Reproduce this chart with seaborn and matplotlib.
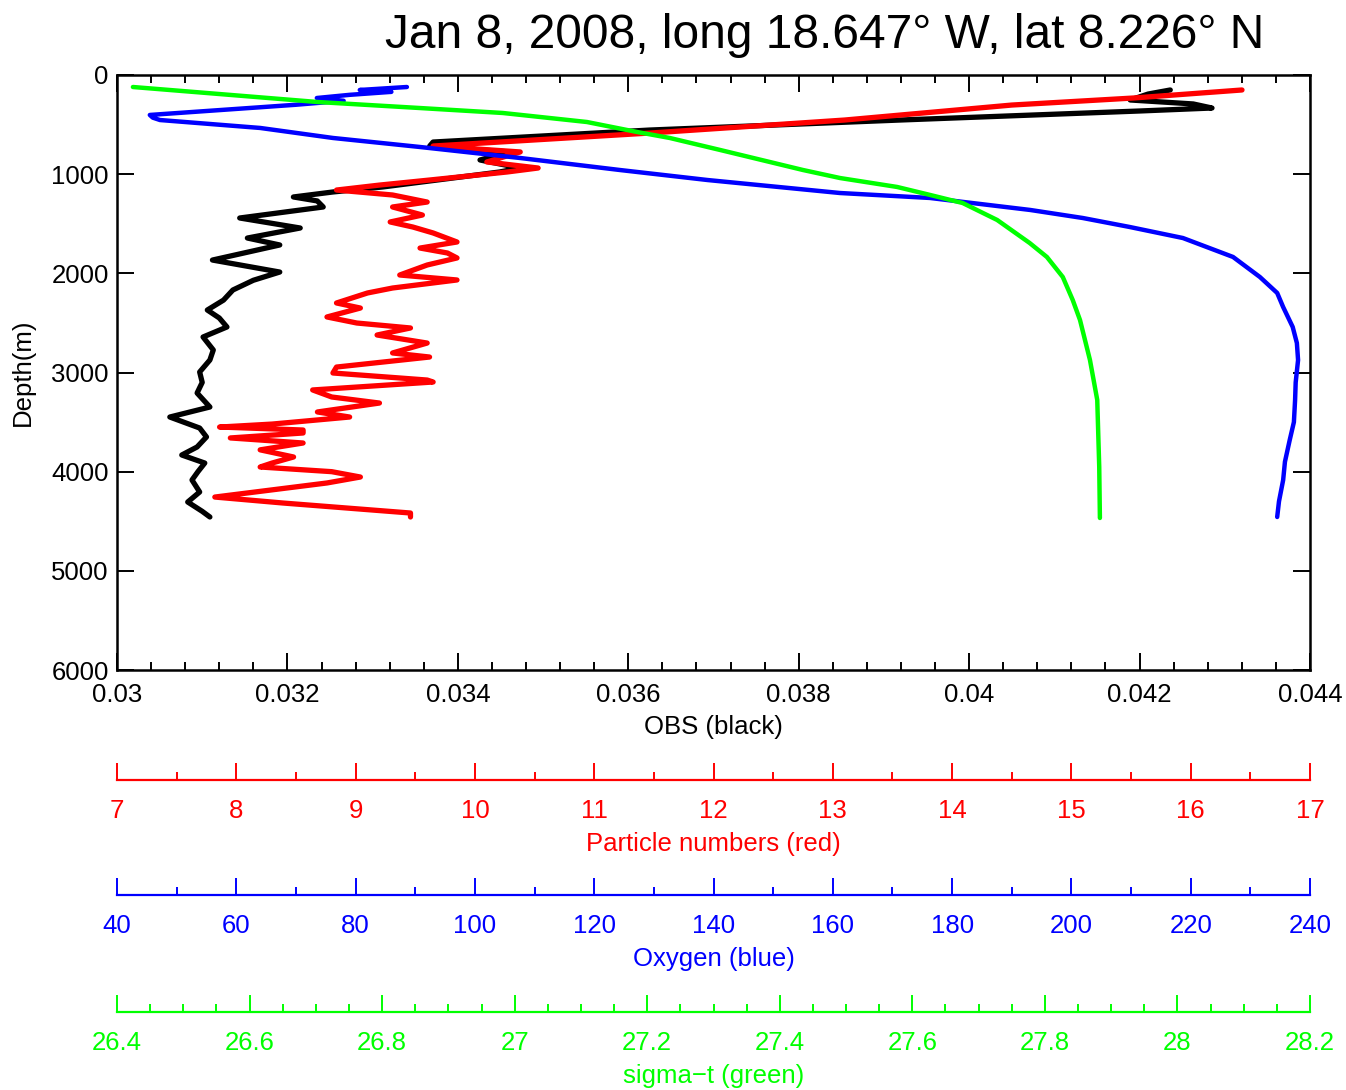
import matplotlib
matplotlib.use("Agg")
import matplotlib.pyplot as plt
from matplotlib.ticker import MultipleLocator, FuncFormatter
import seaborn as sns

sns.set_theme(style="white")
plt.rcParams["font.family"] = ["Liberation Sans", "DejaVu Sans"]
plt.rcParams["text.color"] = "black"
plt.rcParams["axes.labelcolor"] = "black"

TITLE = "Jan 8, 2008, long 18.647° W, lat 8.226° N"

# ── OBS (black) ───────────────────────────────────────────────────────────────
obs_depth = [151, 192, 252, 292, 333, 363, 454, 555, 676, 716, 726, 776, 857, 938,
             978, 1029, 1129, 1180, 1230, 1270, 1331, 1442, 1543, 1644, 1714, 1866,
             1987, 2070, 2168, 2270, 2370, 2450, 2541, 2642, 2773, 2874, 2995, 3100,
             3207, 3348, 3449, 3560, 3650, 3751, 3832, 3913, 4000, 4084, 4205, 4306,
             4400, 4457]
obs_vals = [0.04236, 0.04210, 0.04189, 0.04263, 0.04285, 0.04200, 0.03919, 0.03625,
            0.03371, 0.03367, 0.03379, 0.03461, 0.03426, 0.03473, 0.03449, 0.03403,
            0.03312, 0.03253, 0.03207, 0.03235, 0.03242, 0.03144, 0.03215, 0.03153,
            0.03191, 0.03112, 0.03191, 0.03160, 0.03136, 0.03125, 0.03106, 0.03120,
            0.03129, 0.03101, 0.03113, 0.03109, 0.03097, 0.03100, 0.03094, 0.03109,
            0.03062, 0.03097, 0.03105, 0.03094, 0.03076, 0.03103, 0.03095, 0.03088,
            0.03097, 0.03083, 0.03100, 0.03109]

# ── Particle numbers (red) ────────────────────────────────────────────────────
part_depth = [151, 232, 303, 454, 585, 716, 776, 877, 938, 978, 1059, 1110, 1160,
              1210, 1281, 1331, 1412, 1482, 1533, 1593, 1684, 1745, 1795, 1845, 1916,
              2017, 2067, 2148, 2198, 2299, 2350, 2440, 2501, 2551, 2622, 2703, 2803,
              2844, 2945, 3005, 3076, 3096, 3176, 3247, 3308, 3398, 3449, 3520, 3550,
              3580, 3610, 3660, 3711, 3780, 3852, 3913, 3953, 4000, 4054, 4114, 4256,
              4316, 4417, 4457]
part_vals = [16.43, 15.52, 14.50, 13.10, 11.47, 9.65, 10.38, 10.10, 10.53, 10.27, 9.62,
             9.20, 8.84, 9.31, 9.60, 9.31, 9.56, 9.29, 9.48, 9.65, 9.85, 9.54, 9.77,
             9.85, 9.60, 9.37, 9.85, 9.31, 9.10, 8.84, 9.04, 8.76, 9.01, 9.46, 9.18,
             9.60, 9.31, 9.62, 8.84, 8.81, 9.60, 9.65, 8.64, 8.80, 9.20, 8.68, 8.95,
             8.30, 7.86, 8.56, 8.56, 7.95, 8.56, 8.20, 8.48, 8.30, 8.20, 8.80, 9.04,
             8.76, 7.82, 8.39, 9.46, 9.46]

# ── Oxygen (blue) ─────────────────────────────────────────────────────────────
oxy_depth = [121, 151, 170, 200, 232, 260, 300, 403, 430, 454, 534, 635, 726, 837,
             958, 1059, 1190, 1240, 1361, 1442, 1533, 1644, 1835, 2037, 2198,
             2340, 2541, 2703, 2874, 3100, 3277, 3500, 3681, 3900, 4084, 4300, 4457]
oxy_vals = [88.6, 80.7, 86.0, 79.0, 73.5, 78.0, 70.0, 45.5, 46.0, 47.2, 64.0, 76.2,
            90.8, 107.6, 124.3, 139.0, 161.2, 176.3, 193.1, 201.9, 209.8, 218.7,
            227.1, 231.6, 234.5, 235.5, 237.1, 237.8, 238.0, 237.6, 237.5, 237.3, 236.6,
            235.8, 235.5, 234.8, 234.5]

# ── sigma-t (green) ───────────────────────────────────────────────────────────
sig_depth = [121, 272, 333, 383, 474, 575, 635, 756, 958, 1039, 1129, 1210, 1291,
             1462, 1694, 1835, 2037, 2269, 2471, 2874, 3277, 3953, 4467]
sig_vals = [26.424, 26.702, 26.857, 26.982, 27.109, 27.185, 27.234, 27.310, 27.435,
            27.491, 27.577, 27.627, 27.676, 27.728, 27.777, 27.803, 27.827, 27.842,
            27.853, 27.868, 27.879, 27.882, 27.883]

FS = 18.5
L, W = 117 / 1346, 1193 / 1346

fig = plt.figure(figsize=(13.46, 10.9), dpi=100, facecolor="white")
ax = fig.add_axes([L, 420 / 1090, W, 595 / 1090])

sns.lineplot(x=obs_vals, y=obs_depth, sort=False, estimator=None, color="black",
             lw=3.8, ax=ax)

extras = [
    (part_depth, part_vals, "#ff0000", 3.8, (7, 17), 1, 0.5, "Particle numbers (red)", 780),
    (oxy_depth, oxy_vals, "#0000ff", 3.2, (40, 240), 20, 10, "Oxygen (blue)", 895),
    (sig_depth, sig_vals, "#00ff00", 3.2, (26.4, 28.2), 0.2, 0.05, "sigma\u2212t (green)", 1012),
]

fmt = FuncFormatter(lambda v, p: f"{round(v, 6):g}")

for depth, vals, color, lw, lim, major, minor, label, ypix in extras:
    tw = ax.twiny()
    sns.lineplot(x=vals, y=depth, sort=False, estimator=None, color=color, lw=lw, ax=tw)
    tw.set_xlim(*lim)
    tw.axis("off")

    # separate scale axis underneath
    sa = fig.add_axes([L, 1 - ypix / 1090, W, 0.0005])
    sa.set_facecolor("none")
    for s in ["top", "left", "right"]:
        sa.spines[s].set_visible(False)
    sa.spines["bottom"].set_color(color)
    sa.spines["bottom"].set_linewidth(1.6)
    sa.set_yticks([])
    sa.set_xlim(*lim)
    sa.xaxis.set_major_locator(MultipleLocator(major))
    sa.xaxis.set_minor_locator(MultipleLocator(minor))
    sa.xaxis.set_major_formatter(fmt)
    sa.tick_params(axis="x", which="both", direction="in", colors=color, bottom=True,
                   labelsize=FS, pad=13.5)
    sa.tick_params(axis="x", which="major", length=12, width=1.4)
    sa.tick_params(axis="x", which="minor", length=6, width=1.4)
    sa.set_xlabel(label, color=color, fontsize=FS, labelpad=6.5)

ax.set_xlim(0.03, 0.044)
ax.set_ylim(6000, 0)
ax.xaxis.set_major_locator(MultipleLocator(0.002))
ax.xaxis.set_minor_locator(MultipleLocator(0.0004))
ax.yaxis.set_major_locator(MultipleLocator(1000))
ax.yaxis.set_minor_locator(MultipleLocator(10000))
ax.xaxis.set_major_formatter(fmt)
ax.yaxis.set_major_formatter(FuncFormatter(lambda v, p: f"{int(v)}"))
ax.tick_params(which="both", direction="in", top=True, bottom=True, left=True,
               right=True, labelsize=FS, colors="black")
ax.tick_params(axis="x", pad=9)
ax.tick_params(axis="y", pad=6)
ax.tick_params(which="major", length=12, width=1.4)
ax.tick_params(which="minor", length=6, width=1.4)
for s in ax.spines.values():
    s.set_color("black")
    s.set_linewidth(1.8)
ax.set_xlabel("OBS (black)", fontsize=FS, labelpad=6)
ax.set_ylabel("Depth(m)", fontsize=FS, labelpad=12)

fig.text(825 / 1346, 1 - 35 / 1090, TITLE, ha="center", va="center", fontsize=34.5)

fig.savefig("out.png", dpi=100, facecolor="white")
